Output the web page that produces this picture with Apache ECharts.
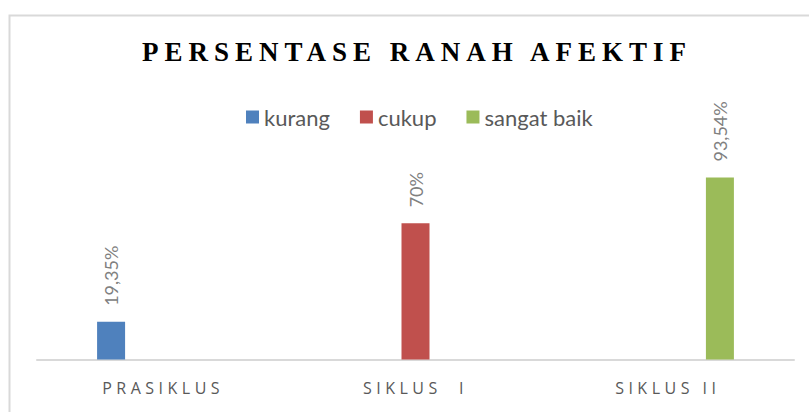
<!DOCTYPE html>
<html>
<head>
<meta charset="utf-8">
<script src="https://cdn.jsdelivr.net/npm/echarts@6/dist/echarts.min.js"></script>
<style>
    html, body { margin: 0; padding: 0; background: #fff; }
    #chart { width: 809px; height: 412px; }
    /* Excel style character spacing on title and category labels */
    #chart text { white-space: pre; }
    #chart text[style*="Open Sans"] { letter-spacing: 4.5px; }
    #chart text[style*="Liberation Serif"] { letter-spacing: 6px; }
</style>
</head>
<body>
<div id="chart"></div>
<script>
// data
var categories = ['PRASIKLUS', 'SIKLUS  I', 'SIKLUS II'];
var kurang = [19.35, null, null];
var cukup = [null, 70, null];
var sangatBaik = [null, null, 93.54];

var myChart = echarts.init(document.getElementById('chart'), null, {renderer: 'svg'});

function pct(p) {
    return String(p.value).replace('.', ',') + '%';
}

var barLabel = {
    show: true,
    position: 'top',
    rotate: 90,
    align: 'left',
    verticalAlign: 'middle',
    distance: 16,
    color: '#808080',
    fontFamily: 'Lato',
    fontSize: 18,
    formatter: pct
};

option = {
    backgroundColor: '#fff',
    animation: false,
    title: {
        text: 'PERSENTASE RANAH AFEKTIF',
        left: 142,
        top: 38,
        padding: 0,
        textStyle: {
            fontFamily: '"Liberation Serif", "Times New Roman", serif',
            fontWeight: 'bold',
            fontSize: 27,
            color: '#000'
        }
    },
    legend: {
        left: 241,
        top: 101,
        itemWidth: 13,
        itemHeight: 13,
        itemGap: 30,
        icon: 'rect',
        textStyle: {
            fontFamily: 'Lato',
            fontSize: 22,
            color: '#595959'
        },
        data: ['kurang', 'cukup', 'sangat baik']
    },
    graphic: [{
        type: 'rect',
        left: 7,
        top: 13,
        shape: {width: 900, height: 500},
        style: {fill: 'none', stroke: '#d9d9d9', lineWidth: 2},
        silent: true
    }],
    grid: {
        left: 37,
        right: 15,
        top: 165,
        bottom: 52.5
    },
    xAxis: {
        type: 'category',
        data: categories,
        axisTick: {show: false},
        axisLine: {lineStyle: {color: '#d9d9d9', width: 2}},
        axisLabel: {
            margin: 20,
            fontFamily: '"Open Sans", Lato',
            fontSize: 16,
            color: '#595959'
        }
    },
    yAxis: {
        type: 'value',
        min: 0,
        max: 100,
        show: false
    },
    series: [
        {
            name: 'kurang',
            type: 'bar',
            data: kurang,
            barWidth: 28,
            barGap: '86%',
            itemStyle: {color: '#4f81bd'},
            label: barLabel
        },
        {
            name: 'cukup',
            type: 'bar',
            data: cukup,
            barWidth: 28,
            barGap: '86%',
            itemStyle: {color: '#c0504d'},
            label: barLabel
        },
        {
            name: 'sangat baik',
            type: 'bar',
            data: sangatBaik,
            barWidth: 28,
            barGap: '86%',
            itemStyle: {color: '#9bbb59'},
            label: barLabel
        }
    ]
};

myChart.setOption(option);
</script>
</body>
</html>
